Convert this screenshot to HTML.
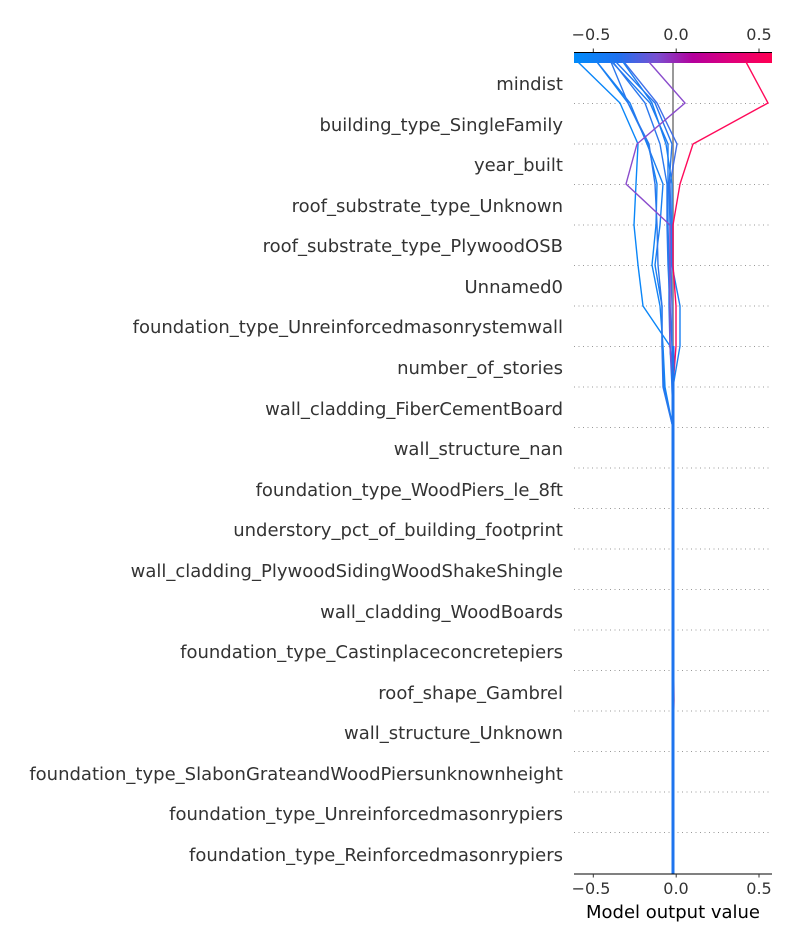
<!DOCTYPE html>
<html><head><meta charset="utf-8"><style>
html,body{margin:0;padding:0;background:#fff;}
svg{display:block;}
text{font-family:"DejaVu Sans","Liberation Sans",sans-serif;}
</style></head><body>
<svg width="800" height="950" viewBox="0 0 800 950" xmlns="http://www.w3.org/2000/svg">
<defs>
<linearGradient id="cb" x1="0" x2="1" y1="0" y2="0">
<stop offset="0" stop-color="#008bfb"/>
<stop offset="0.22" stop-color="#1e72f0"/>
<stop offset="0.42" stop-color="#7a4fd0"/>
<stop offset="0.6" stop-color="#b4009c"/>
<stop offset="0.8" stop-color="#e0007a"/>
<stop offset="1" stop-color="#ff0052"/>
</linearGradient>
</defs>
<rect x="574" y="52.5" width="198" height="10.5" fill="url(#cb)"/>
<line x1="574" y1="52.5" x2="772" y2="52.5" stroke="#000" stroke-width="1"/>
<g stroke="#333" stroke-width="1">
<line x1="593.3" y1="52" x2="593.3" y2="48.5"/><line x1="676.2" y1="52" x2="676.2" y2="48.5"/><line x1="759" y1="52" x2="759" y2="48.5"/>
</g>
<g font-size="16" fill="#333" text-anchor="middle">
<text x="591" y="40">−0.5</text><text x="676" y="40">0.0</text><text x="759" y="40">0.5</text>
</g>
<g stroke="#999" stroke-width="1" stroke-dasharray="1,3.5">
<line x1="574" x2="772" y1="103.5" y2="103.5"/><line x1="574" x2="772" y1="144" y2="144"/><line x1="574" x2="772" y1="184.5" y2="184.5"/><line x1="574" x2="772" y1="225" y2="225"/><line x1="574" x2="772" y1="265.5" y2="265.5"/><line x1="574" x2="772" y1="306" y2="306"/><line x1="574" x2="772" y1="346.5" y2="346.5"/><line x1="574" x2="772" y1="387" y2="387"/><line x1="574" x2="772" y1="427.5" y2="427.5"/><line x1="574" x2="772" y1="468" y2="468"/><line x1="574" x2="772" y1="508.5" y2="508.5"/><line x1="574" x2="772" y1="549" y2="549"/><line x1="574" x2="772" y1="589.5" y2="589.5"/><line x1="574" x2="772" y1="630" y2="630"/><line x1="574" x2="772" y1="670.5" y2="670.5"/><line x1="574" x2="772" y1="711" y2="711"/><line x1="574" x2="772" y1="751.5" y2="751.5"/><line x1="574" x2="772" y1="792" y2="792"/><line x1="574" x2="772" y1="832.5" y2="832.5"/>
</g>
<line x1="673" y1="63" x2="673" y2="874" stroke="#999" stroke-width="2"/>
<g fill="none" stroke-width="1.4" stroke-linejoin="miter">
<polyline stroke="#0a86f8" points="578,62 620,103 638,144 636,184 634,225 638,265 643,306 670,346 673,387"/>
<polyline stroke="#1283f5" points="597,62 628,103 648,144 657,184 656,225 652,265 660,306 663,346 665,387 673,428"/>
<polyline stroke="#1a7ff2" points="597,62 630,103 647,144 663,184 660,225 655,265 662,306 662,346 664,387 673,428"/>
<polyline stroke="#2b77ec" points="611,62 628,103 649,144 655,184 657,225 658,265 662,306 662,346 663,387 673,428"/>
<polyline stroke="#1f7bf0" points="612,62 650,103 668,144 668,184 668,225 669,265 669,306 670,346 672,387 673,428"/>
<polyline stroke="#2576ee" points="616,62 655,103 672,144 669,184 670,225 670,265 670,306 670,346 673,387"/>
<polyline stroke="#3f6fe8" points="624,62 657,103 677,144 670,184 671,225 671,265 672,306 672,346 672,387 673,428"/>
<polyline stroke="#1a7ff2" points="623,62 652,103 666,144 672,184 672,225 672,265 680,306 680,346 673,387"/>
<polyline stroke="#2a78ee" points="613,62 645,103 660,144 667,184 667,225 668,265 670,306 672,346 673,387"/>
<polyline stroke="#8a4ccc" points="649,62 685,103 637,144 626,184 670,225 670,265 670,306 670,346 673,387"/>
<polyline stroke="#ff0a5a" points="746,62 768,103 693,144 680,184 673,225 673,265 676,306 676,346 673,387 673,600 674,700 673,750"/>
</g>
<line x1="673" y1="346" x2="673" y2="874" stroke="#1e74ee" stroke-width="3"/>
<g font-size="18" fill="#333" text-anchor="end">
<text x="563" y="90">mindist</text>
<text x="563" y="131">building_type_SingleFamily</text>
<text x="563" y="171">year_built</text>
<text x="563" y="212">roof_substrate_type_Unknown</text>
<text x="563" y="252">roof_substrate_type_PlywoodOSB</text>
<text x="563" y="293">Unnamed0</text>
<text x="563" y="333">foundation_type_Unreinforcedmasonrystemwall</text>
<text x="563" y="374">number_of_stories</text>
<text x="563" y="415">wall_cladding_FiberCementBoard</text>
<text x="563" y="455">wall_structure_nan</text>
<text x="563" y="496">foundation_type_WoodPiers_le_8ft</text>
<text x="563" y="536">understory_pct_of_building_footprint</text>
<text x="563" y="577">wall_cladding_PlywoodSidingWoodShakeShingle</text>
<text x="563" y="618">wall_cladding_WoodBoards</text>
<text x="563" y="658">foundation_type_Castinplaceconcretepiers</text>
<text x="563" y="699">roof_shape_Gambrel</text>
<text x="563" y="739">wall_structure_Unknown</text>
<text x="563" y="780">foundation_type_SlabonGrateandWoodPiersunknownheight</text>
<text x="563" y="820">foundation_type_Unreinforcedmasonrypiers</text>
<text x="563" y="861">foundation_type_Reinforcedmasonrypiers</text>
</g>
<line x1="574" y1="874" x2="772" y2="874" stroke="#000" stroke-width="1"/>
<g stroke="#333" stroke-width="1">
<line x1="593.3" y1="874" x2="593.3" y2="877.5"/><line x1="676.2" y1="874" x2="676.2" y2="877.5"/><line x1="759" y1="874" x2="759" y2="877.5"/>
</g>
<g font-size="16" fill="#333" text-anchor="middle">
<text x="591" y="894">−0.5</text><text x="676" y="894">0.0</text><text x="759" y="894">0.5</text>
</g>
<text x="673" y="918" font-size="18" fill="#000" text-anchor="middle">Model output value</text>
</svg>
</body></html>
